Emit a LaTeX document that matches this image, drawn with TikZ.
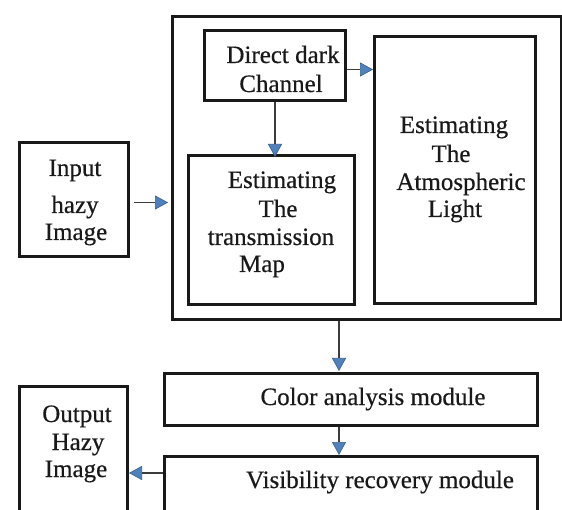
\documentclass[tikz,border=0pt]{standalone}
\usepackage{fontspec}
\setmainfont{Liberation Serif}
\newfontfamily\diagfont{Liberation Serif}[FakeBold=0.5]
\usetikzlibrary{arrows.meta}
\definecolor{tipblue}{RGB}{79,129,189}
\definecolor{tipedge}{RGB}{56,93,138}
\definecolor{ink}{RGB}{25,25,25}
\begin{document}
\begin{tikzpicture}[x=1pt,y=-1pt,
  box/.style={draw=ink, line width=3pt, inner sep=0pt, rectangle, anchor=north west},
  lbl/.style={font=\diagfont\fontsize{25}{28}\selectfont, text=ink, inner sep=0pt, anchor=base},
  arr/.style={draw=ink!85, line width=1.7pt,
    -{Triangle[width=14pt,length=13pt,fill=tipblue,color=tipedge,line width=0.6pt]}}]
\path[use as bounding box, fill=white] (0,0) rectangle (562,510);
\clip (0,0) rectangle (562,510);

% boxes
\node[box, minimum width=109pt, minimum height=114pt] (in)  at (18,141) {};
\node[box, minimum width=389pt, minimum height=303pt] (big) at (171,15) {};
\node[box, minimum width=141pt, minimum height=70pt]  (dd)  at (203,29) {};
\node[box, minimum width=166pt, minimum height=149pt] (tr)  at (187,154) {};
\node[box, minimum width=161pt, minimum height=267pt] (atm) at (373,35) {};
\node[box, minimum width=373pt, minimum height=52pt]  (col) at (163,372) {};
\node[box, minimum width=373pt, minimum height=75pt]  (vis) at (163,455) {};
\node[box, minimum width=108pt, minimum height=145pt] (out) at (18,385) {};

% texts
\node[lbl] (in1) at (75,176) {Input};
\node[lbl] (in2) at (75,213) {hazy};
\node[lbl] (in3) at (76,240) {Image};

\node[lbl] (dd1) at (283,63) {Direct dark};
\node[lbl] (dd2) at (281,92) {Channel};

\node[lbl] (tr1) at (282,188) {Estimating};
\node[lbl] (tr2) at (278,217) {The};
\node[lbl] (tr3) at (271,245) {transmission};
\node[lbl] (tr4) at (262,272) {Map};

\node[lbl] (at1) at (454,133) {Estimating};
\node[lbl] (at2) at (451,162) {The};
\node[lbl] (at3) at (461,190) {Atmospheric};
\node[lbl] (at4) at (455,217) {Light};

\node[lbl] (co1) at (373,405) {Color analysis module};
\node[lbl] (vi1) at (380,488) {Visibility recovery module};

\node[lbl] (ou1) at (77,422) {Output};
\node[lbl] (ou2) at (78,450) {Hazy};
\node[lbl] (ou3) at (76,477) {Image};

% connectors
\coordinate (ax) at (339,0);
\coordinate (ay) at (0,473);
\draw[arr, shorten <=4pt, shorten >=3pt] ([yshift=-3pt]in.east) -- ([yshift=-3pt]in.east -| big.west);
\draw[arr, shorten >=-3pt] (dd.south) -- (dd.south |- tr.north);
\draw[arr] ([yshift=-4pt]dd.east) -- ([yshift=-4pt]dd.east -| atm.west);
\draw[arr, shorten >=1pt] (big.south -| ax) -- (col.north -| ax);
\draw[arr] (col.south -| ax) -- (vis.north -| ax);
\draw[arr] (vis.west |- ay) -- (out.east |- ay);
\end{tikzpicture}
\end{document}
